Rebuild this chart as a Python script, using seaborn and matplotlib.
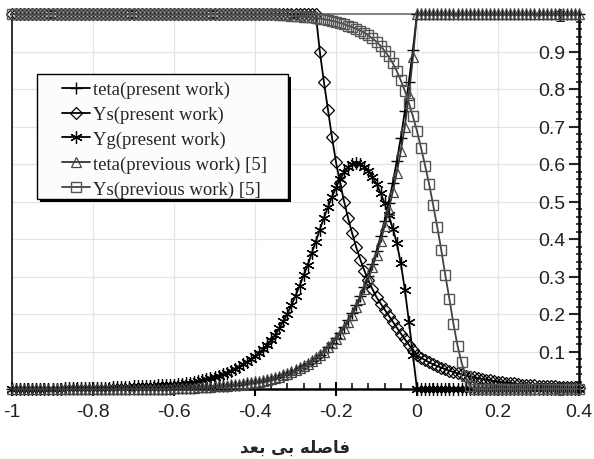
import numpy as np
import matplotlib
matplotlib.use("Agg")
import matplotlib.pyplot as plt
import seaborn as sns
from matplotlib.patches import Rectangle
from matplotlib.ticker import MultipleLocator, FuncFormatter

# -- data (one sample every 0.01 from -1 to 0.4) ---------------------------------
x_pos = np.round(np.linspace(-1.0, 0.4, 141), 2)

teta_present = [0.0] * 40 + [
    0.002, 0.003, 0.003, 0.003, 0.004, 0.004, 0.005, 0.005, 0.006, 0.006,
    0.007, 0.007, 0.008, 0.009, 0.010, 0.011, 0.012, 0.014, 0.015, 0.017,
    0.018, 0.020, 0.022, 0.025, 0.027, 0.030, 0.033, 0.037, 0.041, 0.045,
    0.050, 0.055, 0.061, 0.067, 0.074, 0.082, 0.091, 0.100, 0.111, 0.122,
    0.135, 0.150, 0.165, 0.183, 0.202, 0.223, 0.247, 0.273, 0.301, 0.333,
    0.368, 0.407, 0.449, 0.497, 0.549, 0.607, 0.670, 0.741, 0.819, 0.905,
    1.0] + [1.0] * 40

ys_present = [1.0] * 76 + [
    0.900, 0.820, 0.745, 0.672, 0.605, 0.550, 0.500, 0.455, 0.415, 0.378,
    0.345, 0.316, 0.290, 0.266, 0.245, 0.228, 0.212, 0.196, 0.180, 0.164,
    0.148, 0.133, 0.118, 0.103, 0.090,
    0.083, 0.077, 0.071, 0.066, 0.061, 0.057, 0.053, 0.049, 0.045, 0.042,
    0.039, 0.036, 0.033, 0.031, 0.029, 0.027, 0.025, 0.023, 0.021, 0.020,
    0.018, 0.017, 0.016, 0.015, 0.013, 0.012, 0.012, 0.011, 0.010, 0.009,
    0.009, 0.008, 0.007, 0.007, 0.006, 0.006, 0.005, 0.005, 0.005, 0.004]

yg_present = [
    0.0, 0.0, 0.0, 0.0, 0.001, 0.001, 0.001, 0.001, 0.001, 0.001,
    0.001, 0.001, 0.001, 0.002, 0.002, 0.002, 0.002, 0.002, 0.003, 0.003,
    0.003, 0.003, 0.004, 0.004, 0.004, 0.005, 0.005, 0.005, 0.006, 0.006,
    0.007, 0.007, 0.008, 0.008, 0.009, 0.009, 0.010, 0.010, 0.011, 0.011,
    0.012, 0.013, 0.014, 0.016, 0.017, 0.019, 0.021, 0.024, 0.026, 0.029,
    0.032, 0.036, 0.040, 0.044, 0.049, 0.054, 0.060, 0.066, 0.073, 0.080,
    0.088, 0.097, 0.106, 0.117, 0.130, 0.145, 0.162, 0.181, 0.201, 0.224,
    0.248, 0.275, 0.303, 0.330, 0.362, 0.393, 0.425, 0.456, 0.485, 0.512,
    0.537, 0.560, 0.578, 0.592, 0.600, 0.603, 0.600, 0.593, 0.582, 0.566,
    0.547, 0.523, 0.495, 0.463, 0.428, 0.390, 0.335, 0.265, 0.180, 0.090,
    0.0] + [0.0] * 40

teta_previous = [0.0] * 40 + [
    0.002, 0.003, 0.003, 0.003, 0.004, 0.004, 0.005, 0.005, 0.006, 0.006,
    0.007, 0.007, 0.008, 0.009, 0.010, 0.011, 0.012, 0.014, 0.015, 0.017,
    0.018, 0.020, 0.022, 0.025, 0.027, 0.030, 0.033, 0.037, 0.041, 0.045,
    0.050, 0.055, 0.061, 0.067, 0.074, 0.082, 0.091, 0.100, 0.111, 0.122,
    0.133, 0.147, 0.162, 0.179, 0.198, 0.218, 0.241, 0.266, 0.294, 0.325,
    0.358, 0.394, 0.434, 0.478, 0.525, 0.577, 0.634, 0.700, 0.785, 0.885,
    1.0] + [1.0] * 40

ys_previous = [1.0] * 65 + [
    0.999, 0.998, 0.998, 0.997, 0.996, 0.995, 0.994, 0.993, 0.992, 0.991,
    0.990, 0.988, 0.986, 0.984, 0.982, 0.979, 0.976, 0.973, 0.969, 0.965,
    0.961, 0.956, 0.950, 0.943, 0.935, 0.926, 0.915, 0.902, 0.887, 0.869,
    0.848, 0.823, 0.795, 0.763, 0.727, 0.688, 0.643, 0.596, 0.546, 0.490,
    0.432, 0.370, 0.303, 0.240, 0.174, 0.116, 0.071, 0.035, 0.008] + [0.0] * 27

labels = ["teta(present work)", "Ys(present work)", "Yg(present work)",
          "teta(previous work) [5]", "Ys(previous work) [5]"]
x_ticks = [-1, -0.8, -0.6, -0.4, -0.2, 0, 0.2, 0.4]

# x label: "فاصله بی بعد" written in joined (visual-order) Arabic letter forms
x_label = "\uFEAA\uFECC\uFE91 \uFBFD\uFE91 \uFEEA\uFEE0\uFEBB\uFE8E\uFED3"

# -- style -------------------------------------------------------------------
sns.set_style("white")
plt.rcParams["font.family"] = ["Liberation Sans", "DejaVu Sans"]

fig = plt.figure(figsize=(5.94, 4.60), dpi=100)
ax = fig.add_axes([12 / 594, 1 - 390 / 460, 567 / 594, 375 / 460])

styles = [
    dict(marker="+", markersize=9, color="black", markeredgecolor="black", markeredgewidth=1.0),
    dict(marker="D", markersize=6.5, color="black", markeredgecolor="black",
         markerfacecolor="none", markeredgewidth=0.9),
    dict(marker=(6, 2, 0), markersize=9, color="black", markeredgecolor="black", markeredgewidth=0.9),
    dict(marker="^", markersize=6.5, color="#333333", markeredgecolor="#444444",
         markerfacecolor="none", markeredgewidth=0.9),
    dict(marker="s", markersize=6.5, color="#444444", markeredgecolor="#555555",
         markerfacecolor="none", markeredgewidth=1.0),
]
series = [teta_present, ys_present, yg_present, teta_previous, ys_previous]

for vals, lab, st in zip(series, labels, styles):
    sns.lineplot(x=x_pos, y=np.array(vals), ax=ax, label=lab, estimator=None,
                 sort=False, linewidth=1.3, clip_on=False, zorder=3, **st)

ax.set_xlim(-1, 0.4)
ax.set_ylim(0, 1)

# grid
ax.set_axisbelow(True)
ax.grid(True, color="#e4e4e4", linewidth=0.9)

# spines
ax.spines["left"].set_color("#222222")
ax.spines["left"].set_linewidth(1.3)
ax.spines["top"].set_color("#7a7a7a")
ax.spines["top"].set_linewidth(1.3)
ax.spines["right"].set_color("black")
ax.spines["right"].set_linewidth(1.8)
ax.spines["bottom"].set_color("black")
ax.spines["bottom"].set_linewidth(1.8)
for s in ax.spines.values():
    s.set_visible(True)

# x axis
ax.xaxis.set_major_locator(plt.FixedLocator(x_ticks))
ax.xaxis.set_minor_locator(MultipleLocator(0.04))
ax.xaxis.set_major_formatter(FuncFormatter(lambda v, p: f"{v:g}"))
ax.tick_params(axis="x", which="major", direction="inout", length=10, width=1.5,
               labelsize=14, pad=5, colors="black", labelcolor="#222222", bottom=True)
ax.tick_params(axis="x", which="minor", direction="in", length=4, width=1.3, bottom=True)

# y axis on the right, labels inside the plot
ax.yaxis.tick_right()
ax.yaxis.set_major_locator(MultipleLocator(0.1))
ax.yaxis.set_minor_locator(MultipleLocator(0.02))
ax.yaxis.set_major_formatter(FuncFormatter(lambda v, p: f"{v:.1f}".rstrip("0").rstrip(".")))
ax.tick_params(axis="y", which="major", direction="in", length=7, width=1.5,
               labelsize=14, pad=-10, labelcolor="#222222", right=True, left=False)
ax.tick_params(axis="y", which="minor", direction="inout", length=5, width=1.2,
               right=True, left=False)
for t in ax.get_yticklabels():
    t.set_horizontalalignment("right")

ax.set_xlabel(x_label, fontsize=12, fontweight="bold", family="DejaVu Sans", labelpad=13)
ax.set_ylabel("")

# legend with an Excel-like shadowed box
box = Rectangle((0.0441, 0.5067), 0.4427, 0.3333, transform=ax.transAxes,
                facecolor="#fcfcfc", edgecolor="black", linewidth=1.0, zorder=5)
shadow = Rectangle((0.0441 + 3 / 567, 0.5067 - 3 / 375), 0.4427, 0.3333,
                   transform=ax.transAxes, facecolor="black", edgecolor="none", zorder=4.9)
ax.add_patch(shadow)
ax.add_patch(box)
leg = ax.legend(loc="upper left", bbox_to_anchor=(0.088, 0.821), frameon=False,
                borderpad=0, borderaxespad=0, handlelength=1.5, handletextpad=0.15,
                labelspacing=0.40, prop={"family": "Liberation Serif", "size": 13.5})
leg.set_zorder(6)

fig.savefig("out.png", dpi=100)
